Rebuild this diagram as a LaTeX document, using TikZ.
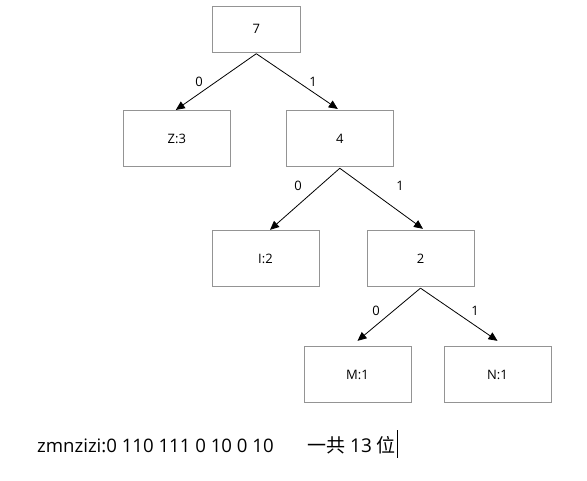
\documentclass[tikz,border=0pt]{standalone}
\usepackage{fontspec}
\setmainfont{Open Sans}
\newfontfamily\cjk{Noto Sans CJK SC}
\usetikzlibrary{arrows.meta}
\begin{document}
\begin{tikzpicture}[x=1pt,y=-1pt,
  box/.style={draw=black!42,line width=0.8pt,minimum width=107pt,minimum height=56.5pt,inner sep=0pt,font=\fontsize{13}{15}\selectfont},
  arr/.style={draw=black,line width=0.8pt,-{Triangle[length=9pt,width=8pt]}},
  lbl/.style={inner sep=0pt,font=\fontsize{13}{15}\selectfont}]
\useasboundingbox (0,0) rectangle (587,480);
\node[box,minimum width=88pt,minimum height=46pt] (n7) at (256.3,29.3) {7};
\node[box] (z3) at (176.8,138.6) {Z:3};
\node[box] (n4) at (339.8,138.6) {4};
\node[box] (i2) at (265.5,258.5) {I:2};
\node[box] (n2) at (420.5,258.5) {2};
\node[box] (m1) at (357.5,374.5) {M:1};
\node[box] (nn1) at (497.5,374.5) {N:1};
\draw[arr] ([yshift=-1pt]n7.south) -- ([xshift=-1pt]z3.north);
\draw[arr] ([yshift=-1pt]n7.south) -- ([xshift=-2pt,yshift=1pt]n4.north);
\draw[arr] ([yshift=-1pt]n4.south) -- ([xshift=4.5pt]i2.north);
\draw[arr] ([yshift=-1pt]n4.south) -- ([xshift=2.5pt,yshift=1pt]n2.north);
\draw[arr] ([yshift=-1pt]n2.south) -- ([yshift=5pt]m1.north);
\draw[arr] ([yshift=-1pt]n2.south) -- ([yshift=5pt]nn1.north);
\node[lbl] (l1) at (199,82) {0};
\node[lbl] (l2) at (313,82) {1};
\node[lbl] (l3) at (298,186) {0};
\node[lbl] (l4) at (400,186) {1};
\node[lbl] (l5) at (376,311) {0};
\node[lbl] (l6) at (475,311) {1};
\node[anchor=base west,inner sep=0pt,font=\fontsize{18.6}{21}\selectfont] (txt) at (37,452) {zmnzizi:0 110 111 0 10 0 10};
\node[anchor=base west,inner sep=0pt,font=\fontsize{19}{21}\selectfont] (txt2) at (307,452) {{\cjk 一共} 13 {\cjk 位}};
\coordinate (c1) at (397.5,430);
\coordinate (c2) at (397.5,458);
\draw[line width=1pt] (c1) -- (c2);
\end{tikzpicture}
\end{document}
